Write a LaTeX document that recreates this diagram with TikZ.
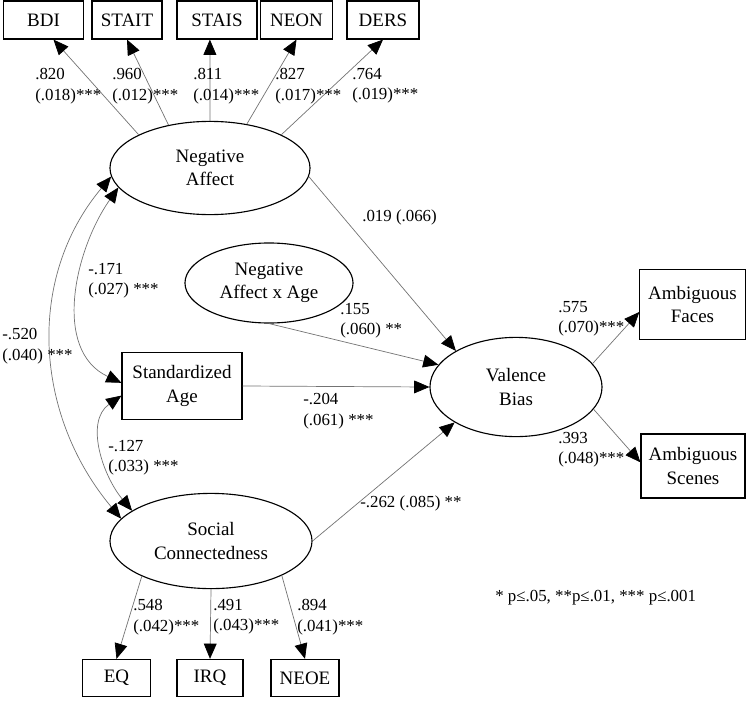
\documentclass[tikz,border=0pt]{standalone}
\usepackage{fontspec}
\setmainfont{Liberation Serif}
\usetikzlibrary{arrows.meta,shapes.geometric}

\begin{document}
\begin{tikzpicture}[x=0.025cm, y=0.025cm,
	ind/.style={draw, line width=0.8pt, minimum height=0.95cm, inner sep=1pt, align=center, font=\fontsize{13.5}{16.5}\selectfont},
	lat/.style={draw, ellipse, line width=0.8pt, inner sep=1pt, align=center, font=\fontsize{13.5}{16.5}\selectfont},
	lbl/.style={anchor=west, inner sep=0pt, align=left, font=\fontsize{12}{14.5}\selectfont},
	link/.style={draw=gray!90!black, line width=0.5pt, -{Triangle[length=3.8mm, width=3.2mm, color=black]}},
	cov/.style={draw=gray!90!black, line width=0.5pt, {Triangle[length=3.8mm, width=3.2mm, color=black]}-{Triangle[length=3.8mm, width=3.2mm, color=black]}}]
	\useasboundingbox (0,0) rectangle (748,700);

	% latent variables
	\node[lat, minimum width=5cm, minimum height=2.33cm] (negaff) at (210,532) {Negative\\Affect};
	\node[lat, minimum width=4.2cm, minimum height=2cm] (negage) at (269,417) {Negative\\Affect x Age};
	\node[lat, minimum width=4.3cm, minimum height=2.48cm] (valbias) at (516,313) {Valence\\Bias};
	\node[lat, minimum width=5.05cm, minimum height=2.38cm] (socconn) at (211,159) {Social\\Connectedness};

	% observed variables
	\node[ind, minimum width=1.98cm] (bdi) at (43.5,680) {BDI};
	\node[ind, minimum width=1.75cm] (stait) at (127,680) {STAIT};
	\node[ind, minimum width=2cm] (stais) at (217,680) {STAIS};
	\node[ind, minimum width=1.78cm] (neon) at (296.5,680) {NEON};
	\node[ind, minimum width=1.8cm] (ders) at (383,680) {DERS};
	\node[ind, minimum width=3cm, minimum height=1.68cm] (stdage) at (182,314) {Standardized\\Age};
	\node[ind, minimum width=2.63cm, minimum height=1.73cm] (ambfaces) at (692.5,395.5) {Ambiguous\\Faces};
	\node[ind, minimum width=2.6cm, minimum height=1.6cm] (ambscenes) at (693,234) {Ambiguous\\Scenes};
	\node[ind, minimum width=1.68cm, minimum height=0.93cm] (eq) at (116.5,22) {EQ};
	\node[ind, minimum width=1.65cm, minimum height=0.93cm] (irq) at (210,22) {IRQ};
	\node[ind, minimum width=1.7cm, minimum height=0.93cm] (neoe) at (305,22) {NEOE};

	% loadings
	\draw[link] (negaff.155) -- (bdi.-63);
	\draw[link] (negaff.134) -- (stait.south);
	\draw[link] (negaff.90) -- (stais.-110);
	\draw[link] (negaff.50) -- (neon.south);
	\draw[link] (negaff.25) -- (ders.south);
	\draw[link] (socconn.207) -- (eq.north);
	\draw[link] (socconn.-90) -- (irq.north);
	\draw[link] (socconn.-26) -- (neoe.north);
	\draw[link] (valbias.17) -- (ambfaces.188);
	\draw[link] (valbias.-16) -- (ambscenes.176);

	% regressions
	\draw[link] (negaff.-5) -- (valbias.149);
	\draw[link] (negage.south) -- (valbias.164);
	\draw[link] (stdage.east) -- (valbias.west);
	\draw[link] (socconn.east) -- (valbias.210);

	% covariances
	\draw[cov] (negaff.185) to[out=230, in=130] (socconn.166);
	\draw[cov] (negaff.192) to[out=235, in=155] (stdage.177);
	\draw[cov] (stdage.189) to[out=215, in=130] (socconn.159);

	% estimates
	\node[lbl] (l820) at (35,614) {.820\\(.018)***};
	\node[lbl] (l960) at (112,614) {.960\\(.012)***};
	\node[lbl] (l811) at (193,614) {.811\\(.014)***};
	\node[lbl] (l827) at (275,614) {.827\\(.017)***};
	\node[lbl] (l764) at (352,614) {.764\\(.019)***};
	\node[lbl] (l019) at (362,483) {.019 (.066)};
	\node[lbl] (l171) at (88,419) {-.171\\(.027) ***};
	\node[lbl] (l520) at (2,354) {-.520\\(.040) ***};
	\node[lbl] (l155) at (340,379) {.155\\(.060) **};
	\node[lbl] (l204) at (303,289) {-.204\\(.061) ***};
	\node[lbl] (l127) at (108,242) {-.127\\(.033) ***};
	\node[lbl] (l575) at (558,381) {.575\\(.070)***};
	\node[lbl] (l393) at (558,250) {.393\\(.048)***};
	\node[lbl] (l262) at (360,197) {-.262 (.085) **};
	\node[lbl] (l548) at (133,83) {.548\\(.042)***};
	\node[lbl] (l491) at (213,83) {.491\\(.043)***};
	\node[lbl] (l894) at (297,83) {.894\\(.041)***};
	\node[lbl] (note) at (495,102) {* p≤.05, **p≤.01, *** p≤.001};
\end{tikzpicture}
\end{document}
